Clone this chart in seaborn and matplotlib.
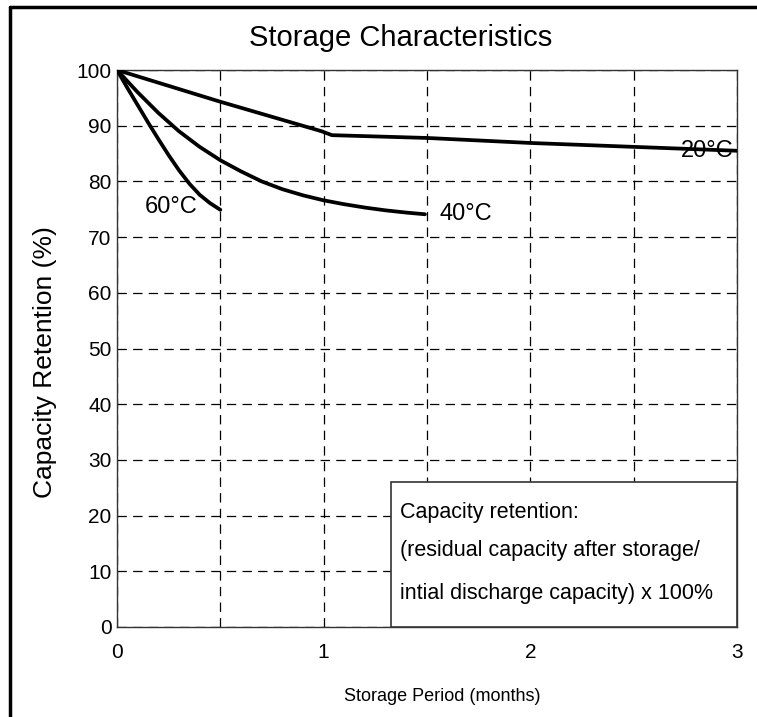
import matplotlib
matplotlib.use("Agg")
import matplotlib.pyplot as plt
import seaborn as sns
import pandas as pd
from matplotlib.patches import Rectangle
from matplotlib.lines import Line2D
from matplotlib.ticker import MultipleLocator

# ---- data ----
months_20 = [0, 0.5, 0.99, 1.04, 1.5, 2.0, 2.5, 3.0]
ret_20 = [100, 94.3, 89.0, 88.3, 87.8, 86.9, 86.2, 85.5]

months_40 = [0, 0.1, 0.2, 0.3, 0.4, 0.5, 0.6, 0.7, 0.8, 0.9, 1.0, 1.1, 1.2, 1.3, 1.4, 1.49]
ret_40 = [100, 96.0, 92.3, 89.0, 86.2, 83.8, 81.8, 80.0, 78.6, 77.5, 76.6, 75.9, 75.3, 74.8, 74.4, 74.1]

months_60 = [0, 0.05, 0.1, 0.15, 0.2, 0.25, 0.3, 0.35, 0.4, 0.45, 0.5]
ret_60 = [100, 96.8, 93.7, 90.6, 87.6, 84.7, 82.0, 79.6, 77.6, 76.1, 74.9]

curve_labels = ["20\u00b0C", "40\u00b0C", "60\u00b0C"]
x_ticks = [0, 1, 2, 3]
y_ticks = list(range(0, 101, 10))

title = "Storage Characteristics"
x_label = "Storage Period (months)"
y_label = "Capacity Retention (%)"
note_lines = ["Capacity retention:",
              "(residual capacity after storage/",
              "intial discharge capacity) x 100%"]

sns.set_theme(style="white")
FONT = ["Liberation Sans Narrow", "Liberation Sans", "DejaVu Sans"]
plt.rcParams["font.family"] = FONT
plt.rcParams["text.color"] = "black"
plt.rcParams["axes.labelcolor"] = "black"

frames = []
for lab, xs, ys in zip(curve_labels, [months_20, months_40, months_60], [ret_20, ret_40, ret_60]):
    frames.append(pd.DataFrame({"months": xs, "retention": ys, "temp": lab}))
df = pd.concat(frames, ignore_index=True)

fig = plt.figure(figsize=(7.57, 7.17), dpi=100)
ax = fig.add_axes([117/757, 1 - 627/717, (737-117)/757, (627-70)/717])

sns.lineplot(data=df, x="months", y="retention", units="temp", estimator=None,
             color="black", linewidth=2.7, sort=False, ax=ax, zorder=3)

ax.set_xlim(0, 3)
ax.set_ylim(0, 100)
ax.set_xticks(x_ticks)
ax.xaxis.set_minor_locator(MultipleLocator(0.5))
ax.set_yticks(y_ticks)
ax.tick_params(axis="both", which="both", length=0, labelsize=15, colors="black")
ax.tick_params(axis="y", pad=4)
ax.tick_params(axis="x", pad=11.5)
ax.grid(True, which="both", color="black", linestyle=(0, (7.5, 5)), linewidth=0.9)
for s in ax.spines.values():
    s.set_color("#333333")
    s.set_linewidth(1.0)

ax.set_xlabel(x_label, fontsize=13, color="black")
ax.xaxis.set_label_coords((442 - 117) / 620, (627 - 688) / 557)
ax.set_ylabel(y_label, fontsize=19, color="black")
ax.yaxis.set_label_coords((57 - 117) / 620, (627 - 362) / 557)
fig.text(401 / 757, 1 - 38 / 717, title, fontsize=21, ha="center", va="center", color="black")

# curve labels
ax.text(2.73, 85.4, curve_labels[0], fontsize=17, va="center", ha="left", zorder=2, color="black")
ax.text(1.56, 74.1, curve_labels[1], fontsize=17, va="center", ha="left", color="black")
ax.text(0.26, 75.4, curve_labels[2], fontsize=17, va="center", ha="center", color="black")

# note box
ax.add_patch(Rectangle((1.326, 0), 3 - 1.326, 26.0, facecolor="white",
                       edgecolor="#333333", linewidth=1.2, zorder=4))
for yy, line in zip([20.6, 13.8, 6.1], note_lines):
    ax.text(1.37, yy, line, fontsize=15.5, va="center", ha="left", zorder=5, color="black")

# outer frame (top and left)
fig.add_artist(Line2D([10/757, 1], [1 - 7/717, 1 - 7/717], color="black", linewidth=2.5,
                      transform=fig.transFigure))
fig.add_artist(Line2D([10/757, 10/757], [0, 1 - 7/717], color="black", linewidth=2.5,
                      transform=fig.transFigure))

fig.savefig("out.png", dpi=100, facecolor="white")
